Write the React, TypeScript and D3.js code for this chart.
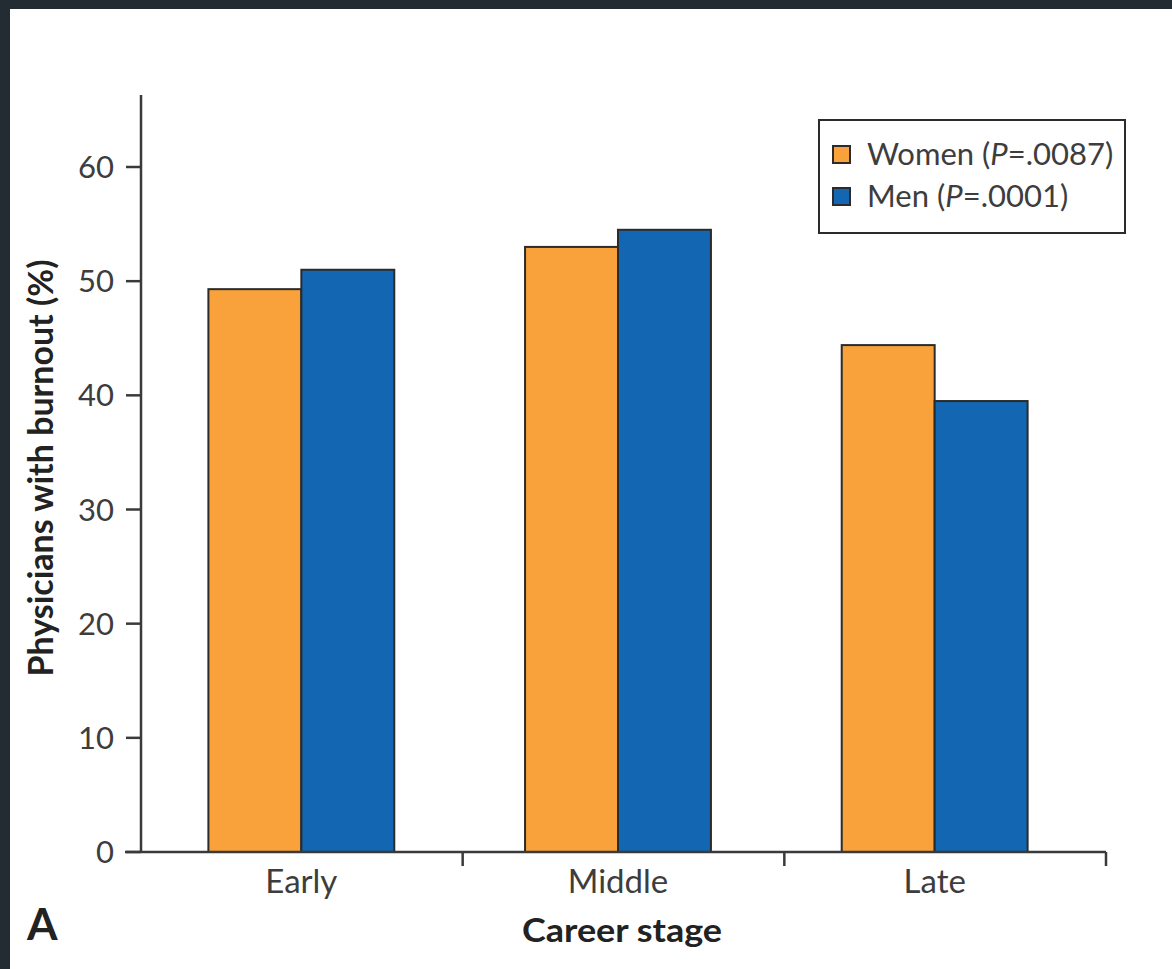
import React from "react";
import * as d3 from "d3";

const categories = ["Early", "Middle", "Late"];
const seriesNames = ["Women", "Men"];
const legendLabels = [
  { name: "Women", p: ".0087" },
  { name: "Men", p: ".0001" },
];
const womenValues = [49.3, 53.0, 44.4];
const menValues = [51.0, 54.5, 39.5];
const yTicks = [0, 10, 20, 30, 40, 50, 60];
const colors = ["#F9A23B", "#1366B1"];

const W = 1172;
const H = 969;

export default function App() {
  const y = d3.scaleLinear().domain([0, 60]).range([852, 167]);
  const xBars = d3
    .scaleBand<string>()
    .domain(categories)
    .range([143, 1093])
    .paddingInner(0.413)
    .paddingOuter(0.2065);
  const xSub = d3
    .scaleBand<string>()
    .domain(seriesNames)
    .range([0, xBars.bandwidth()]);
  const xAxisScale = d3.scaleBand<string>().domain(categories).range([141, 1106]);
  const axisTop = y(66.3);
  const series = [womenValues, menValues];
  const textColor = "#3d3d3d";
  const font = "Lato, 'Open Sans', sans-serif";

  return (
    <div style={{ position: "absolute", left: 0, top: 0 }}>
      <svg width={W} height={H} style={{ display: "block" }}>
        <rect x={0} y={0} width={W} height={H} fill="#232b33" />
        <rect x={10} y={9} width={W - 10} height={H - 9} fill="#ffffff" />

        {/* bars */}
        {categories.map((c, ci) => (
          <g key={c} transform={`translate(${xBars(c)},0)`}>
            {seriesNames.map((s, si) => (
              <rect
                key={s}
                x={xSub(s)}
                y={y(series[si][ci])}
                width={xSub.bandwidth()}
                height={y(0) - y(series[si][ci])}
                fill={colors[si]}
                stroke="#2b2b2b"
                strokeWidth={2}
              />
            ))}
          </g>
        ))}

        {/* y axis */}
        <line x1={141} x2={141} y1={axisTop} y2={y(0)} stroke="#3a3a3a" strokeWidth={2.5} />
        {yTicks.map((t) => (
          <g key={t}>
            <line x1={126} x2={141} y1={y(t)} y2={y(t)} stroke="#3a3a3a" strokeWidth={2.5} />
            <text
              x={114}
              y={y(t)}
              dy="0.36em"
              textAnchor="end"
              fontFamily={font}
              fontSize={31}
              fill={textColor}
            >
              {t}
            </text>
          </g>
        ))}

        {/* x axis */}
        <line x1={125} x2={1106} y1={y(0)} y2={y(0)} stroke="#3a3a3a" strokeWidth={2.5} />
        {categories.map((c) => {
          const x1 = (xAxisScale(c) as number) + xAxisScale.bandwidth();
          return (
            <line key={c} x1={x1} x2={x1} y1={y(0)} y2={y(0) + 14} stroke="#3a3a3a" strokeWidth={2.5} />
          );
        })}
        {categories.map((c) => (
          <text
            key={c}
            x={(xBars(c) as number) + xBars.bandwidth() / 2}
            y={893}
            textAnchor="middle"
            fontFamily={font}
            fontSize={33}
            fill={textColor}
          >
            {c}
          </text>
        ))}

        {/* axis titles */}
        <text
          transform="translate(53,468) rotate(-90)"
          textAnchor="middle"
          fontFamily={font}
          fontWeight="bold"
          fontSize={34}
          textLength={417}
          lengthAdjust="spacingAndGlyphs"
          fill="#222"
        >
          Physicians with burnout (%)
        </text>
        <text
          x={622}
          y={942}
          textAnchor="middle"
          fontFamily={font}
          fontWeight="bold"
          fontSize={33}
          textLength={200}
          lengthAdjust="spacingAndGlyphs"
          fill="#222"
        >
          Career stage
        </text>
        <text x={27} y={940} fontFamily={font} fontWeight="bold" fontSize={44} fill="#222">
          A
        </text>

        {/* legend */}
        <rect x={819} y={120} width={306} height={113} fill="#fff" stroke="#2b2b2b" strokeWidth={2} />
        {legendLabels.map((l, i) => (
          <g key={l.name} transform={`translate(0,${i * 42})`}>
            <rect x={833} y={146} width={17} height={17} fill={colors[i]} stroke="#2b2b2b" strokeWidth={2} />
            <text x={867} y={165} fontFamily={font} fontSize={31} fill={textColor}>
              {l.name} (<tspan fontStyle="italic">P</tspan>={l.p})
            </text>
          </g>
        ))}
      </svg>
    </div>
  );
}
